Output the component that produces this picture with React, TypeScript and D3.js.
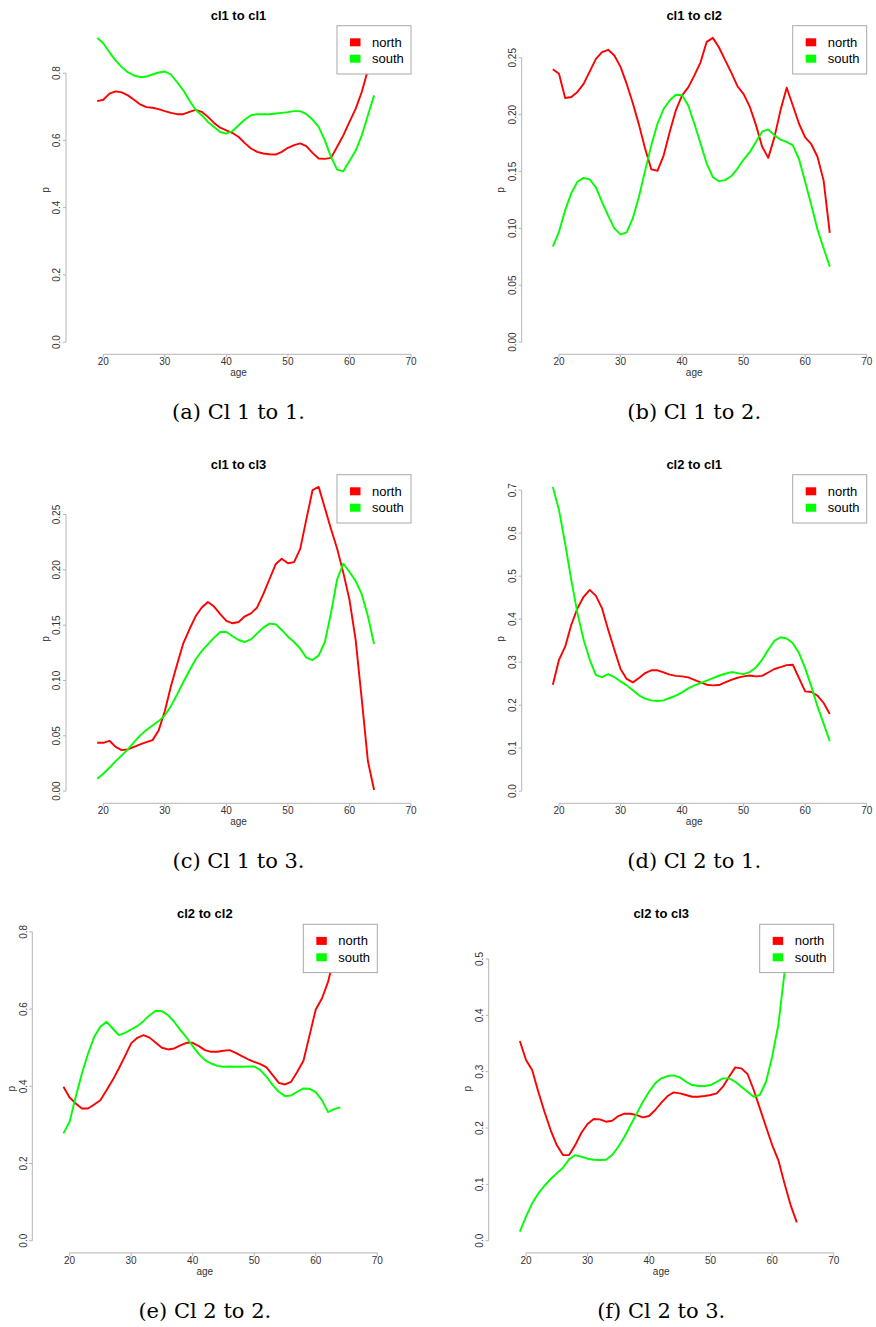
import React from 'react';
import * as d3 from 'd3';

// Ages on the horizontal axis
const ages = [19, 20, 21, 22, 23, 24, 25, 26, 27, 28, 29, 30, 31, 32, 33, 34, 35, 36, 37, 38, 39, 40, 41, 42, 43, 44, 45, 46, 47, 48, 49, 50, 51, 52, 53, 54, 55, 56, 57, 58, 59, 60, 61, 62, 63, 64];

// Transition probabilities by region
const northCl1Cl1 = [0.717, 0.721, 0.739, 0.746, 0.743, 0.734, 0.721, 0.707, 0.699, 0.697, 0.693, 0.687, 0.682, 0.678, 0.678, 0.685, 0.691, 0.685, 0.670, 0.652, 0.638, 0.630, 0.622, 0.610, 0.592, 0.576, 0.566, 0.561, 0.559, 0.558, 0.566, 0.578, 0.586, 0.591, 0.583, 0.563, 0.546, 0.545, 0.548, 0.581, 0.615, 0.655, 0.694, 0.744, 0.810, 0.870];
const southCl1Cl1 = [0.905, 0.889, 0.862, 0.838, 0.818, 0.803, 0.793, 0.788, 0.790, 0.796, 0.802, 0.805, 0.796, 0.773, 0.749, 0.719, 0.691, 0.675, 0.655, 0.640, 0.625, 0.620, 0.628, 0.645, 0.662, 0.675, 0.678, 0.678, 0.678, 0.680, 0.682, 0.684, 0.687, 0.687, 0.678, 0.662, 0.640, 0.600, 0.551, 0.513, 0.508, 0.539, 0.569, 0.615, 0.675, 0.734];

const northCl1Cl2 = [0.240, 0.236, 0.2146, 0.2155, 0.220, 0.227, 0.238, 0.249, 0.255, 0.257, 0.252, 0.242, 0.227, 0.210, 0.191, 0.170, 0.152, 0.1506, 0.164, 0.185, 0.204, 0.217, 0.224, 0.2345, 0.246, 0.264, 0.2675, 0.259, 0.248, 0.237, 0.225, 0.218, 0.207, 0.191, 0.172, 0.162, 0.180, 0.204, 0.2237, 0.208, 0.192, 0.180, 0.174, 0.163, 0.142, 0.096];
const southCl1Cl2 = [0.084, 0.097, 0.116, 0.131, 0.141, 0.1444, 0.143, 0.136, 0.123, 0.111, 0.100, 0.0947, 0.0965, 0.109, 0.128, 0.151, 0.173, 0.192, 0.205, 0.2126, 0.2175, 0.217, 0.208, 0.192, 0.1746, 0.157, 0.145, 0.1415, 0.1424, 0.146, 0.1526, 0.1605, 0.167, 0.176, 0.185, 0.187, 0.182, 0.178, 0.176, 0.173, 0.161, 0.141, 0.1205, 0.099, 0.0825, 0.0664];

const northCl1Cl3 = [0.0437, 0.0437, 0.0455, 0.040, 0.0371, 0.0377, 0.040, 0.0422, 0.0443, 0.0461, 0.0549, 0.0724, 0.095, 0.1146, 0.1336, 0.1463, 0.158, 0.166, 0.171, 0.1668, 0.160, 0.1538, 0.1517, 0.1529, 0.158, 0.1607, 0.166, 0.178, 0.1915, 0.205, 0.210, 0.206, 0.207, 0.219, 0.2458, 0.272, 0.275, 0.256, 0.237, 0.219, 0.1975, 0.173, 0.137, 0.083, 0.027, 0.001];
const southCl1Cl3 = [0.0112, 0.0157, 0.0211, 0.0271, 0.0323, 0.0377, 0.0443, 0.0504, 0.0552, 0.0594, 0.0633, 0.0685, 0.0769, 0.0875, 0.0986, 0.109, 0.119, 0.1267, 0.1327, 0.1387, 0.1438, 0.1438, 0.140, 0.1366, 0.1348, 0.1372, 0.1426, 0.1478, 0.1514, 0.1508, 0.1457, 0.1396, 0.1348, 0.1288, 0.1206, 0.1185, 0.1227, 0.1348, 0.161, 0.1915, 0.2057, 0.198, 0.190, 0.178, 0.158, 0.133];

const northCl2Cl1 = [0.2475, 0.3055, 0.336, 0.387, 0.425, 0.452, 0.468, 0.454, 0.425, 0.375, 0.329, 0.284, 0.261, 0.253, 0.263, 0.2746, 0.281, 0.281, 0.276, 0.271, 0.268, 0.267, 0.2645, 0.259, 0.253, 0.2475, 0.246, 0.2467, 0.253, 0.259, 0.2637, 0.267, 0.269, 0.267, 0.268, 0.276, 0.284, 0.2885, 0.293, 0.294, 0.263, 0.232, 0.2305, 0.222, 0.205, 0.1795];
const southCl2Cl1 = [0.7077, 0.6536, 0.576, 0.491, 0.414, 0.352, 0.3055, 0.270, 0.2653, 0.272, 0.2653, 0.2552, 0.246, 0.2344, 0.2228, 0.215, 0.211, 0.2096, 0.211, 0.2166, 0.222, 0.2297, 0.239, 0.246, 0.2514, 0.2568, 0.263, 0.2684, 0.273, 0.277, 0.2746, 0.272, 0.277, 0.2877, 0.3055, 0.3287, 0.3496, 0.358, 0.355, 0.344, 0.321, 0.286, 0.2436, 0.197, 0.157, 0.116];

const northCl2Cl2 = [0.3987, 0.371, 0.3556, 0.3426, 0.3426, 0.353, 0.364, 0.390, 0.416, 0.446, 0.478, 0.511, 0.5256, 0.5325, 0.526, 0.5126, 0.4997, 0.4954, 0.498, 0.5057, 0.5126, 0.5126, 0.504, 0.4936, 0.4893, 0.4893, 0.492, 0.4936, 0.4867, 0.478, 0.470, 0.4634, 0.4574, 0.4488, 0.4289, 0.409, 0.4047, 0.4117, 0.4375, 0.466, 0.5325, 0.599, 0.6274, 0.6706, 0.735, 0.788];
const southCl2Cl2 = [0.2779, 0.308, 0.3728, 0.433, 0.485, 0.528, 0.554, 0.567, 0.5497, 0.5325, 0.5385, 0.547, 0.5558, 0.5687, 0.5842, 0.5955, 0.5946, 0.5842, 0.567, 0.5454, 0.5264, 0.504, 0.4833, 0.4677, 0.459, 0.453, 0.4505, 0.4513, 0.4505, 0.4505, 0.4513, 0.4513, 0.4418, 0.4246, 0.403, 0.3858, 0.3745, 0.3763, 0.3858, 0.3944, 0.3935, 0.3849, 0.3642, 0.3331, 0.3409, 0.3452];

const northCl2Cl3 = [0.3544, 0.3207, 0.303, 0.2645, 0.229, 0.1964, 0.1698, 0.152, 0.152, 0.1698, 0.1917, 0.2071, 0.216, 0.2154, 0.2112, 0.213, 0.2213, 0.2254, 0.2254, 0.223, 0.219, 0.2213, 0.232, 0.245, 0.2568, 0.2633, 0.2615, 0.2586, 0.2556, 0.2556, 0.2568, 0.2586, 0.2615, 0.2734, 0.2911, 0.3077, 0.3059, 0.2959, 0.2675, 0.2349, 0.2024, 0.1698, 0.1432, 0.1018, 0.0633, 0.0325];
const southCl2Cl3 = [0.016, 0.0426, 0.0663, 0.084, 0.0976, 0.1095, 0.1195, 0.1296, 0.1444, 0.152, 0.149, 0.1456, 0.1438, 0.1432, 0.1438, 0.152, 0.1669, 0.1846, 0.2053, 0.226, 0.2467, 0.2645, 0.2793, 0.2882, 0.2923, 0.2935, 0.2899, 0.2822, 0.2763, 0.2746, 0.2746, 0.2763, 0.2822, 0.2882, 0.2882, 0.2822, 0.2734, 0.2645, 0.2556, 0.2586, 0.2822, 0.3266, 0.3828, 0.475, 0.515, 0.540];

// Axis ticks
const xTicks = [20, 30, 40, 50, 60, 70];
const yTicksTenths2 = [0, 0.2, 0.4, 0.6, 0.8];
const yTicksTwentieths = [0, 0.05, 0.1, 0.15, 0.2, 0.25];
const yTicksTenths07 = [0, 0.1, 0.2, 0.3, 0.4, 0.5, 0.6, 0.7];
const yTicksTenths05 = [0, 0.1, 0.2, 0.3, 0.4, 0.5];

const seriesNames = ['north', 'south'];
const seriesColors = ['#ff0000', '#00ff00'];

const titles = ['cl1 to cl1', 'cl1 to cl2', 'cl1 to cl3', 'cl2 to cl1', 'cl2 to cl2', 'cl2 to cl3'];
const captions = ['(a) Cl 1 to 1.', '(b) Cl 1 to 2.', '(c) Cl 1 to 3.', '(d) Cl 2 to 1.', '(e) Cl 2 to 2.', '(f) Cl 2 to 3.'];

const panels = [
  { north: northCl1Cl1, south: southCl1Cl1, yTicks: yTicksTenths2, digits: 1, left: 66, top: 25.7 },
  { north: northCl1Cl2, south: southCl1Cl2, yTicks: yTicksTwentieths, digits: 2, left: 521.7, top: 25.7 },
  { north: northCl1Cl3, south: southCl1Cl3, yTicks: yTicksTwentieths, digits: 2, left: 66, top: 474.7 },
  { north: northCl2Cl1, south: southCl2Cl1, yTicks: yTicksTenths07, digits: 1, left: 521.7, top: 474.7 },
  { north: northCl2Cl2, south: southCl2Cl2, yTicks: yTicksTenths2, digits: 1, left: 32.3, top: 924.3 },
  { north: northCl2Cl3, south: southCl2Cl3, yTicks: yTicksTenths05, digits: 1, left: 488.7, top: 924.3 },
];

const PW = 345;
const PH = 328.6;
const SANS = "'Liberation Sans', Arial, Helvetica, sans-serif";
const AXIS_GREY = '#b5b5b5';
const LABEL_GREY = '#333333';

function Panel({ idx }: { idx: number }) {
  const p = panels[idx];
  const left = p.left;
  const top = p.top;
  const right = left + PW;
  const bottom = top + PH;

  const x = d3.scaleLinear().domain([13.94, 70]).range([left, right]);
  const yMax = d3.max([...p.north, ...p.south]) as number;
  const y = d3.scaleLinear().domain([-0.04 * yMax, 1.04 * yMax]).range([bottom, top]);
  const fmt = d3.format(`.${p.digits}f`);

  const line = d3
    .line<number>()
    .x((_, i) => x(ages[i]))
    .y((d) => y(d));

  const cx = (left + right) / 2;
  const clipId = `clip-${idx}`;
  const series = [p.north, p.south];

  const legW = 74;
  const legH = 48.3;
  const legX = right - legW;
  const legY = top;

  return (
    <g>
      <defs>
        <clipPath id={clipId}>
          <rect x={left} y={top} width={PW} height={PH} />
        </clipPath>
      </defs>

      <text x={cx} y={top - 6} textAnchor="middle" fontFamily={SANS} fontWeight="bold" fontSize={13} fill="#000">
        {titles[idx]}
      </text>

      {/* x axis */}
      <line x1={x(xTicks[0])} x2={x(xTicks[xTicks.length - 1])} y1={bottom} y2={bottom} stroke={AXIS_GREY} strokeWidth={1} />
      {xTicks.map((t) => (
        <g key={`x${t}`}>
          <line x1={x(t)} x2={x(t)} y1={bottom} y2={bottom + 3} stroke={AXIS_GREY} strokeWidth={1} />
          <text x={x(t)} y={bottom + 11} textAnchor="middle" fontFamily={SANS} fontSize={10} fill={LABEL_GREY}>
            {t}
          </text>
        </g>
      ))}
      <text x={cx} y={bottom + 22} textAnchor="middle" fontFamily={SANS} fontSize={10} fill={LABEL_GREY}>
        age
      </text>

      {/* y axis */}
      <line x1={left} x2={left} y1={y(p.yTicks[0])} y2={y(p.yTicks[p.yTicks.length - 1])} stroke={AXIS_GREY} strokeWidth={1} />
      {p.yTicks.map((t) => (
        <g key={`y${t}`}>
          <line x1={left - 3} x2={left} y1={y(t)} y2={y(t)} stroke={AXIS_GREY} strokeWidth={1} />
          <text
            transform={`translate(${left - 5.7},${y(t)}) rotate(-90)`}
            textAnchor="middle"
            fontFamily={SANS}
            fontSize={10}
            fill={LABEL_GREY}
          >
            {fmt(t)}
          </text>
        </g>
      ))}
      <text
        transform={`translate(${left - 17.5},${(top + bottom) / 2}) rotate(-90)`}
        textAnchor="middle"
        fontFamily={SANS}
        fontSize={10}
        fill={LABEL_GREY}
      >
        p
      </text>

      {/* curves */}
      <g clipPath={`url(#${clipId})`}>
        {series.map((s, i) => (
          <path key={seriesNames[i]} d={line(s) ?? ''} fill="none" stroke={seriesColors[i]} strokeWidth={1.9} strokeLinejoin="round" />
        ))}
      </g>

      {/* legend */}
      <rect x={legX} y={legY} width={legW} height={legH} fill="#fff" stroke="#a8a8a8" strokeWidth={1} />
      {seriesNames.map((name, i) => {
        const rowY = legY + 16.6 + i * 16.4;
        return (
          <g key={name}>
            <rect x={legX + 13} y={rowY - 4} width={10.5} height={8} fill={seriesColors[i]} />
            <text x={legX + 35} y={rowY} dominantBaseline="central" fontFamily={SANS} fontSize={13} fill="#000">
              {name}
            </text>
          </g>
        );
      })}

      <text x={cx} y={bottom + 65} textAnchor="middle" fontFamily="'DejaVu Serif', serif" fontSize={21} fill="#000">
        {captions[idx]}
      </text>
    </g>
  );
}

export default function App() {
  return (
    <svg
      width={876}
      height={1327}
      viewBox="0 0 876 1327"
      style={{ position: 'absolute', left: 0, top: 0, background: '#fff' }}
    >
      <rect x={0} y={0} width={876} height={1327} fill="#fff" />
      {panels.map((_, i) => (
        <Panel key={i} idx={i} />
      ))}
    </svg>
  );
}
